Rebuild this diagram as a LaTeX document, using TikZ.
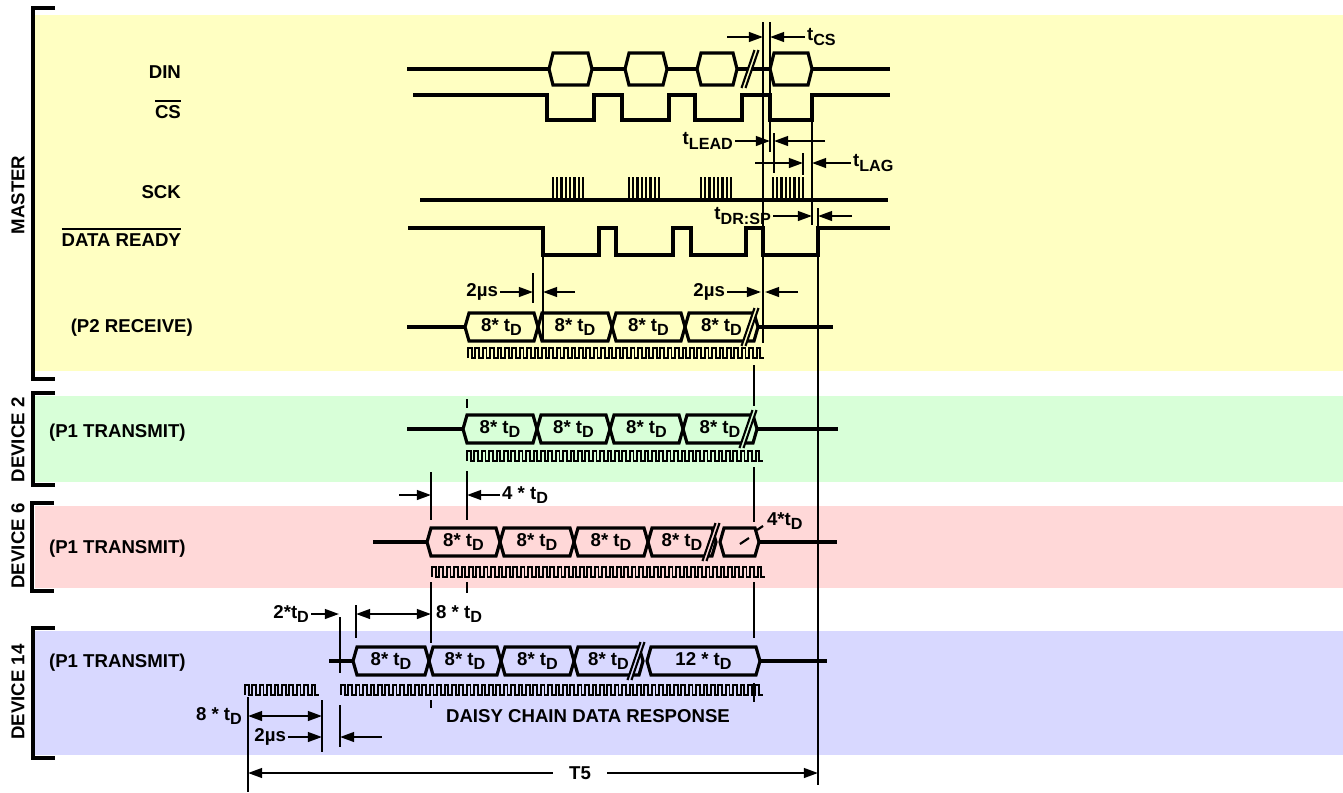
\documentclass[tikz,border=0pt]{standalone}
\usepackage{fontspec}
\setmainfont{Liberation Sans}
\usetikzlibrary{arrows.meta}

\definecolor{mastercol}{RGB}{255,255,194}
\definecolor{devtwocol}{RGB}{216,255,216}
\definecolor{devsixcol}{RGB}{255,216,216}
\definecolor{devfourcol}{RGB}{216,216,255}

\newcommand\subt[1]{\raisebox{-0.45ex}{\fontsize{9.2}{9}\selectfont #1}}
\newcommand\ovl[1]{\leavevmode\vbox{\hrule height 1.1pt\kern 1.8pt\hbox{#1}}}
% data cell: x1, x2, centre y, text
\newcommand\datacell[4]{%
  \draw[sig] (#1,#3) -- (#1+4,#3-14) -- (#2-4,#3-14) -- (#2,#3) -- (#2-4,#3+14) -- (#1+4,#3+14) -- cycle;
  \node[lbl] at ({(#1+#2)/2},#3) {#4};}
% clock train: x start, top y, pulses
\newcommand\clocktrain[3]{%
  \draw[clkline] (#1,#2+10) \foreach \i in {1,...,#3}{ -- ++(0,-10) -- ++(3.7,0) -- ++(0,10) -- ++(3.7,0)};}
% break mark: x, centre y, background
\newcommand\breakmark[3]{%
  \fill[#3] (#1-8.5,#2+19) -- (#1+4.5,#2-19) -- (#1+8.5,#2-19) -- (#1-4.5,#2+19) -- cycle;
  \draw[vline] (#1-8.5,#2+19) -- (#1+4.5,#2-19) (#1-4.5,#2+19) -- (#1+8.5,#2-19);}

\begin{document}
\begin{tikzpicture}[x=0.02cm,y=-0.02cm,
  sig/.style={line width=1.8pt},
  vline/.style={line width=1.2pt},
  clkline/.style={line width=1.1pt},
  grpbar/.style={line width=1.8pt},
  arr/.style={line width=1.2pt,-{Triangle[length=8pt,width=5.5pt]}},
  darr/.style={line width=1.2pt,{Triangle[length=8pt,width=5.5pt]}-{Triangle[length=8pt,width=5.5pt]}},
  lbl/.style={font=\bfseries\fontsize{10.6}{12}\selectfont,inner sep=1pt}]
\useasboundingbox (0,0) rectangle (1343,792);

% bands and group bars
\fill[mastercol] (35,15) rectangle (1343,371);
\fill[devtwocol] (35,396) rectangle (1343,482);
\fill[devsixcol] (35,506) rectangle (1343,588);
\fill[devfourcol] (35,631) rectangle (1343,755);
\draw[grpbar] (55,8) -| (33,379) -- (55,379);
\draw[grpbar] (55,393) -| (33,485) -- (55,485);
\draw[grpbar] (54,503) -| (32,591) -- (54,591);
\draw[grpbar] (55,628) -| (33,758) -- (55,758);

\node[lbl,rotate=90] (master) at (18,195) {MASTER};
\node[lbl,rotate=90] (devtwo) at (18,440) {DEVICE 2};
\node[lbl,rotate=90] (devsix) at (18,546) {DEVICE 6};
\node[lbl,rotate=90] (devfour) at (18,692) {DEVICE 14};

\node[lbl,anchor=base east] (din) at (183,78) {DIN};
\node[lbl,anchor=base east] (cs) at (183,118) {\ovl{CS}};
\node[lbl,anchor=base east] (sck) at (183,198) {SCK};
\node[lbl,anchor=base east] (drdy) at (183,246) {\ovl{DATA READY}};
\node[lbl,anchor=base east] (ptwo) at (195,332) {(P2 RECEIVE)};
\node[lbl,anchor=base west] (pone) at (47,437) {(P1 TRANSMIT)};
\node[lbl,anchor=base west] (poneb) at (47,553) {(P1 TRANSMIT)};
\node[lbl,anchor=base west] (ponec) at (47,667) {(P1 TRANSMIT)};

% DIN
\draw[sig] (407,69) -- (549,69) (592,69) -- (625,69) (667,69) -- (697,69) (737,69) -- (770,69) (812,69) -- (890,69);
\foreach \a/\b in {549/592,625/667,697/737,770/812}
  \draw[sig] (\a,69) -- (\a+4,53) -- (\b-4,53) -- (\b,69) -- (\b-4,85) -- (\a+4,85) -- cycle;
\breakmark{750}{69}{mastercol}

% CS, SCK, DATA READY
\draw[sig] (413,95) -| (547,120) -| (594,95) -| (622,120) -| (669,95) -| (695,120) -| (742,95) -| (770,120) -| (812,95) -- (890,95);
\draw[sig] (420,200) -- (888,200);
\foreach \b in {553,629,701,773}
  \foreach \k in {0,...,7}
    \draw[line width=1.3pt] (\b+\k*4.3,177) -- (\b+\k*4.3,202);
\draw[sig] (408,228) -| (543,255) -| (599,228) -| (616,255) -| (673,228) -| (691,255) -| (746,228) -| (763,255) -| (818,228) -- (890,228);

% P2 receive
\draw[sig] (407,327) -- (465,327) (758,327) -- (833,327);
\datacell{465}{538}{327}{8* t\subt{D}}
\datacell{538}{612}{327}{8* t\subt{D}}
\datacell{612}{685}{327}{8* t\subt{D}}
\datacell{685}{758}{327}{8* t\subt{D}}
\breakmark{750}{327}{mastercol}
\clocktrain{468}{348}{40}

% device 2
\draw[sig] (407,429) -- (463,429) (757,429) -- (838,429);
\datacell{463}{537}{429}{8* t\subt{D}}
\datacell{537}{610}{429}{8* t\subt{D}}
\datacell{610}{683}{429}{8* t\subt{D}}
\datacell{683}{757}{429}{8* t\subt{D}}
\breakmark{748}{429}{devtwocol}
\clocktrain{467}{451}{40}

% device 6
\draw[sig] (373,542) -- (427,542) (759,542) -- (837,542);
\datacell{427}{500}{542}{8* t\subt{D}}
\datacell{500}{574}{542}{8* t\subt{D}}
\datacell{574}{648}{542}{8* t\subt{D}}
\datacell{648}{716}{542}{8* t\subt{D}}
\datacell{720}{759}{542}{}
\breakmark{711}{542}{devsixcol}
\clocktrain{432}{567}{45}

% device 14
\draw[sig] (329,661) -- (353,661) (760,661) -- (827,661);
\datacell{353}{429}{661}{8* t\subt{D}}
\datacell{429}{501}{661}{8* t\subt{D}}
\datacell{501}{574}{661}{8* t\subt{D}}
\datacell{574}{643}{661}{8* t\subt{D}}
\datacell{647}{760}{661}{12 * t\subt{D}}
\breakmark{636}{661}{devfourcol}
\clocktrain{245}{685}{10}
\clocktrain{341}{685}{57}

% timing marks
\draw[vline] (533,273) -- (533,303);
\draw[vline] (543,255) -- (543,340);
\draw[vline] (763,22) -- (763,343);
\draw[vline] (770,22) -- (770,152);
\draw[vline] (774,133) -- (774,173);
\draw[vline] (803,153) -- (803,175);
\draw[vline] (812,120) -- (812,225);
\draw[vline] (818,208) -- (818,785);
\draw[vline] (754,365) -- (754,406) (754,467) -- (754,522) (754,582) -- (754,638) (754,683) -- (754,702);
\draw[vline] (467,399) -- (467,408) (467,471) -- (467,520) (467,582) -- (467,593);
\draw[vline] (431,472) -- (431,520) (431,582) -- (431,643) (431,700) -- (431,708);
\draw[vline] (356,605) -- (356,638);
\draw[vline] (340,617) -- (340,673) (340,705) -- (340,747);
\draw[vline] (248,697) -- (248,792);
\draw[vline] (322,700) -- (322,752);

% timing labels
\node[lbl,anchor=west] (tcs) at (805,37) {t\subt{CS}};
\draw[arr] (727,37) -- (763,37);
\draw[arr] (tcs.west) -- (770,37);
\node[lbl,anchor=east] (tlead) at (735,141) {t\subt{LEAD}};
\draw[arr] (tlead.east) -- (770,141);
\draw[arr] (825,141) -- (774,141);
\node[lbl,anchor=west] (tlag) at (851,163) {t\subt{LAG}};
\draw[arr] (755,163) -- (803,163);
\draw[arr] (tlag.west) -- (812,163);
\node[lbl,anchor=east] (tdrsp) at (773,216) {t\subt{DR:SP}};
\draw[arr] (tdrsp.east) -- (812,216);
\draw[arr] (852,216) -- (818,216);

\node[lbl,anchor=east] (twousa) at (500,292) {2µs};
\draw[arr] (twousa.east) -- (533,292);
\draw[arr] (575,292) -- (543,292);
\node[lbl,anchor=east] (twousb) at (727,292) {2µs};
\draw[arr] (twousb.east) -- (761,292);
\draw[arr] (798,292) -- (765,292);

\draw[arr] (399,495) -- (431,495);
\node[lbl,anchor=west] (fourtd) at (500,495) {4 * t\subt{D}};
\draw[arr] (fourtd.west) -- (467,495);
\node[lbl,anchor=west] (fourtdb) at (765,521) {4*t\subt{D}};
\draw[vline] (740,544) -- (749,538) (757,530) -- (763,526);

\draw[darr] (356,614) -- (431,614);
\node[lbl,anchor=west] (eighttd) at (434,614) {8 * t\subt{D}};
\node[lbl,anchor=east] (twotd) at (311,614) {2*t\subt{D}};
\draw[arr] (twotd.east) -- (339,614);

\node[lbl] (daisy) at (588,716) {DAISY CHAIN DATA RESPONSE};
\node[lbl,anchor=east] (eighttdb) at (244,716) {8 * t\subt{D}};
\draw[darr] (248,716) -- (322,716);
\node[lbl,anchor=east] (twousc) at (288,737) {2µs};
\draw[arr] (twousc.east) -- (322,737);
\draw[arr] (382,737) -- (340,737);

\node[lbl,inner xsep=9pt] (tfive) at (580,773) {T5};
\draw[arr] (tfive.west) -- (248,773);
\draw[arr] (tfive.east) -- (818,773);
\end{tikzpicture}
\end{document}
